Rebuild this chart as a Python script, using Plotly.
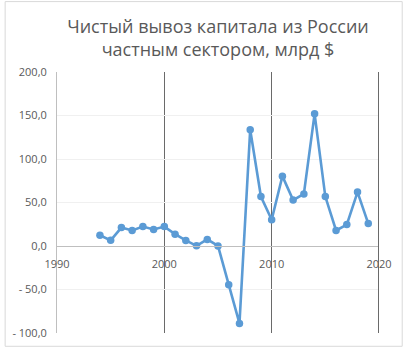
import plotly.graph_objects as go

years = list(range(1994, 2020))
values = [12.3, 6.5, 21.2, 17.8, 22.3, 19.0, 22.3, 13.6, 6.4, 0.2, 7.6, 0.1,
          -44.5, -89.0, 133.7, 56.8, 30.2, 80.3, 52.8, 59.8, 151.9, 56.8,
          17.8, 24.6, 62.0, 25.8]

y_ticks = [-100, -50, 0, 50, 100, 150, 200]
y_labels = ["- 100,0", "- 50,0", "0,0", "50,0", "100,0", "150,0", "200,0"]
x_ticks = [1990, 2000, 2010, 2020]
x_labels = ["1990", "2000", "2010", "2020"]

W, H = 405, 352
L, R, T, B = 53, 26, 72, 15
pw, ph = W - L - R, H - T - B

fig = go.Figure()
fig.add_trace(go.Scatter(
    x=years, y=values, mode="lines+markers",
    line=dict(color="#5b9bd5", width=2.6),
    marker=dict(color="#5b9bd5", size=7.5),
    hoverinfo="skip",
))

font = "Open Sans, Noto Sans, sans-serif"
fig.update_layout(
    width=W, height=H,
    margin=dict(l=L, r=R, t=T, b=B, pad=0),
    paper_bgcolor="white", plot_bgcolor="white",
    showlegend=False,
    font=dict(family=font, color="#595959", size=11),
    title=dict(
        text="Чистый вывоз капитала из России<br>частным сектором, млрд $",
        x=0.5, xanchor="center", xref="paper", y=1 - 33 / H, yanchor="middle",
        font=dict(family=font, size=18, color="#595959"),
    ),
    xaxis=dict(
        range=[1990, 2020], tickvals=x_ticks, ticktext=x_labels,
        showgrid=True, gridcolor="#6a6a6a", gridwidth=1,
        showline=True, linecolor="#bfbfbf", linewidth=1,
        zeroline=False, anchor="free", position=1 / 3,
        ticks="", ticklabelstandoff=8,
        tickfont=dict(size=11, color="#595959"),
    ),
    yaxis=dict(
        range=[-100, 200], tickvals=y_ticks, ticktext=y_labels,
        showgrid=True, gridcolor="#f0f0f0", gridwidth=1,
        showline=True, linecolor="#bfbfbf", linewidth=1,
        zeroline=False, ticks="", ticklabelstandoff=7,
        tickfont=dict(size=11, color="#595959"),
    ),
    shapes=[
        dict(
            type="rect", xref="paper", yref="paper",
            x0=(0.5 - L) / pw, x1=(W - 2.5 - L) / pw,
            y0=-(B - 1.5) / ph, y1=1 + (T - 0.5) / ph,
            line=dict(color="#d9d9d9", width=1), layer="below",
        ),
        dict(
            type="line", xref="paper", yref="paper",
            x0=(pw - 0.5) / pw, x1=(pw - 0.5) / pw, y0=0, y1=1,
            line=dict(color="#6a6a6a", width=1), layer="above",
        ),
    ],
)
fig.write_html("out.html")
